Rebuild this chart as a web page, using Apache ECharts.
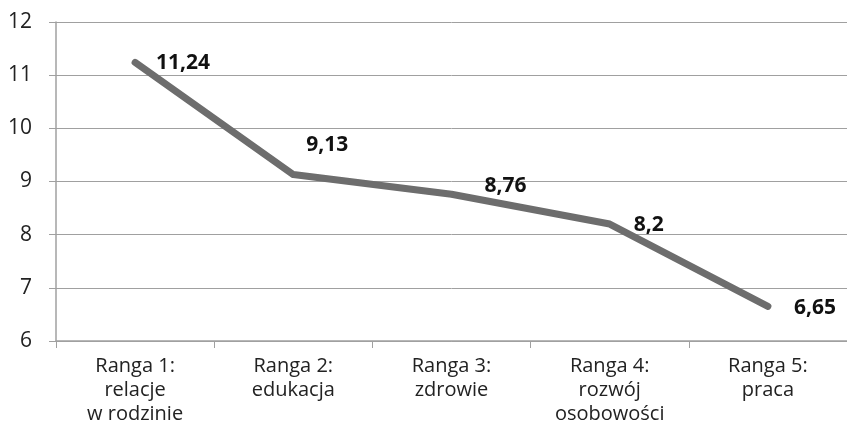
<!DOCTYPE html>
<html>
<head>
<meta charset="utf-8">
<script src="https://cdn.jsdelivr.net/npm/echarts@6/dist/echarts.min.js"></script>
<style>html,body{margin:0;padding:0;background:#fff}#chart{width:847px;height:428px}</style>
</head>
<body>
<div id="chart"></div>
<script>
const categories = ['Ranga 1:\nrelacje\nw rodzinie', 'Ranga 2:\nedukacja', 'Ranga 3:\nzdrowie', 'Ranga 4:\nrozwój\nosobowości', 'Ranga 5:\npraca'];
const values = [11.24, 9.13, 8.76, 8.2, 6.65];
// label shift from the point: [dx to left edge, dy to text middle]
const labelShift = [[21, 1], [13, -30], [33, -8], [24, 1], [26, 2]];

const chart = echarts.init(document.getElementById('chart'));
const option = {
  animation: false,
  grid: { left: 56, right: -8, top: 22, bottom: 87 },
  xAxis: {
    type: 'category',
    data: categories,
    boundaryGap: true,
    axisLine: { lineStyle: { color: '#a0a0a0', width: 1.5 } },
    axisTick: { show: true, length: 7, lineStyle: { color: '#a0a0a0' } },
    axisLabel: { color: '#222', fontSize: 20, fontFamily: 'Open Sans', lineHeight: 24, margin: 13, interval: 0 }
  },
  yAxis: {
    type: 'value',
    min: 6, max: 12, interval: 1,
    axisLine: { show: true, lineStyle: { color: '#a0a0a0', width: 1.5 } },
    axisTick: { show: true, length: 7, lineStyle: { color: '#a0a0a0' } },
    splitLine: { lineStyle: { color: '#a0a0a0', width: 1 } },
    axisLabel: { color: '#222', fontSize: 21, fontFamily: 'Open Sans', margin: 24 }
  },
  series: [{
    type: 'line',
    data: values.map((v, i) => ({
      value: v,
      label: { position: [labelShift[i][0] + 1, labelShift[i][1] + 1] }
    })),
    symbol: 'circle',
    symbolSize: 2,
    showSymbol: true,
    itemStyle: { color: 'rgba(0,0,0,0)', borderWidth: 0 },
    lineStyle: { color: '#6d6d6d', width: 7, cap: 'round', join: 'round' },
    label: {
      show: true,
      color: '#111',
      fontSize: 21,
      fontWeight: 'bold',
      fontFamily: 'Open Sans',
      align: 'left',
      verticalAlign: 'middle',
      formatter: p => String(p.value).replace('.', ',')
    },
    labelLayout: { hideOverlap: false }
  }]
};
chart.setOption(option);
</script>
</body>
</html>
